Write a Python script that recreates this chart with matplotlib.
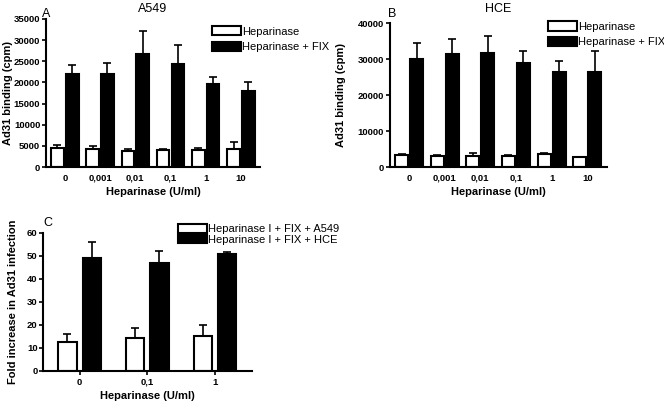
import numpy as np
import matplotlib
matplotlib.use('Agg')
import matplotlib.pyplot as plt

plt.rcParams['font.family'] = ['Liberation Sans', 'DejaVu Sans']

# panel A - A549
doses = ['0', '0,001', '0,01', '0,1', '1', '10']
a_hep = [4500, 4200, 3900, 4100, 4100, 4300]
a_hep_err = [800, 700, 300, 200, 500, 1500]
a_fix = [22000, 22000, 26800, 24300, 19700, 17900]
a_fix_err = [2100, 2500, 5300, 4500, 1700, 2100]

# panel B - HCE
b_hep = [3300, 3000, 3200, 3100, 3600, 2700]
b_hep_err = [300, 300, 600, 200, 400, 200]
b_fix = [30000, 31300, 31600, 29000, 26500, 26300]
b_fix_err = [4400, 4200, 4800, 3400, 2900, 6000]

# panel C - fold increase
c_doses = ['0', '0,1', '1']
c_a549 = [12.5, 14.5, 15.0]
c_a549_err = [3.8, 4.0, 5.2]
c_hce = [49.0, 46.8, 50.8]
c_hce_err = [7.0, 5.5, 0.8]

fig = plt.figure(figsize=(6.64, 4.04), dpi=100)

def panel(ax, labels, w_vals, w_err, k_vals, k_err, width, off, ymax, yticks,
          ylabel, ylab_x, xticks_marks=False):
    x = np.arange(len(labels))
    ax.bar(x - off, w_vals, width, color='white', edgecolor='black', linewidth=1.5)
    ax.bar(x + off, k_vals, width, color='black', edgecolor='black', linewidth=1.5)
    ax.errorbar(x - off, w_vals, yerr=[np.zeros(len(x)), w_err], fmt='none',
                ecolor='black', elinewidth=1.2, capsize=3, capthick=1.2)
    ax.errorbar(x + off, k_vals, yerr=[np.zeros(len(x)), k_err], fmt='none',
                ecolor='black', elinewidth=1.2, capsize=3, capthick=1.2)
    ax.set_xlim(-0.54, len(x) - 1 + 0.55)
    ax.set_ylim(0, ymax)
    ax.set_yticks(yticks)
    ax.set_xticks(x)
    ax.set_xticklabels(labels)
    for s in ['top', 'right']:
        ax.spines[s].set_visible(False)
    for s in ['left', 'bottom']:
        ax.spines[s].set_linewidth(1.5)
    ax.tick_params(axis='y', length=3, width=1.2, labelsize=6.8, pad=1)
    ax.tick_params(axis='x', length=3 if xticks_marks else 0, width=1.2,
                   labelsize=6.8, pad=2 if xticks_marks else 5)
    for t in ax.get_xticklabels() + ax.get_yticklabels():
        t.set_fontweight('bold')
    ax.set_xlabel('Heparinase (U/ml)', fontsize=8, fontweight='bold', labelpad=3)
    ax.set_ylabel(ylabel, fontsize=8, fontweight='bold')
    ax.yaxis.set_label_coords(ylab_x, 0.5)

axA = fig.add_axes([0.069, 0.5866, 0.323, 0.3664])
panel(axA, doses, a_hep, a_hep_err, a_fix, a_fix_err, 0.36, 0.21, 35000,
      np.arange(0, 35001, 5000), 'Ad31 binding (cpm)', -0.155)
axA.set_title('A549', fontsize=9, pad=5)
fig.text(0.063, 0.957, 'A', fontsize=9)
axA.legend(['Heparinase', 'Heparinase + FIX'], loc='upper left',
           bbox_to_anchor=(0.319, 0.935), bbox_transform=fig.transFigure,
           frameon=False, fontsize=8, handlelength=2.6, handleheight=0.9,
           labelspacing=0.45, handletextpad=0.1, borderpad=0, borderaxespad=0)

axB = fig.add_axes([0.587, 0.5866, 0.327, 0.356])
panel(axB, doses, b_hep, b_hep_err, b_fix, b_fix_err, 0.36, 0.21, 40000,
      np.arange(0, 40001, 10000), 'Ad31 binding (cpm)', -0.2)
axB.set_title('HCE', fontsize=9, pad=8)
fig.text(0.584, 0.957, 'B', fontsize=9)
axB.legend(['Heparinase', 'Heparinase + FIX'], loc='upper left',
           bbox_to_anchor=(0.825, 0.947), bbox_transform=fig.transFigure,
           frameon=False, fontsize=8, handlelength=2.6, handleheight=0.9,
           labelspacing=0.45, handletextpad=0.1, borderpad=0, borderaxespad=0)

axC = fig.add_axes([0.065, 0.0817, 0.3145, 0.3416])
panel(axC, c_doses, c_a549, c_a549_err, c_hce, c_hce_err, 0.27, 0.18, 60,
      np.arange(0, 61, 10), 'Fold increase in Ad31 infection', -0.12,
      xticks_marks=True)
fig.text(0.066, 0.44, 'C', fontsize=9)
axC.legend(['Heparinase I + FIX + A549', 'Heparinase I + FIX + HCE'],
           loc='upper left', bbox_to_anchor=(0.268, 0.445),
           bbox_transform=fig.transFigure, frameon=False, fontsize=8,
           handlelength=2.6, handleheight=0.8, labelspacing=0.05,
           handletextpad=0.1, borderpad=0, borderaxespad=0)

plt.savefig('out.png', dpi=100)
